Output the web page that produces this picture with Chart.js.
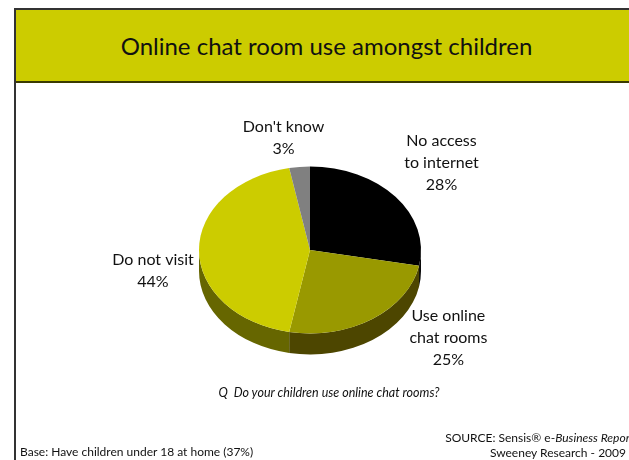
<!DOCTYPE html>
<html>
<head>
<meta charset="utf-8">
<script src="https://cdn.jsdelivr.net/npm/chart.js@4.4.1/dist/chart.umd.min.js"></script>
<style>
  body { margin: 0; background: #fff; }
  #page { position: relative; width: 629px; height: 460px; overflow: hidden; font-family: Lato, "Liberation Sans", sans-serif; color: #111; }
  .banner { position: absolute; left: 14px; top: 8px; width: 620px; height: 71px; background: #cccc00;
            border-top: 2px solid #333; border-bottom: 2px solid #3a3a00; }
  .banner span { position: absolute; left: 0; width: 625px; top: 0; line-height: 72px; text-align: center; font-size: 24px; color: #111; }
  .rule { position: absolute; left: 14px; top: 8px; width: 2px; height: 452px; background: #333; }
  canvas { position: absolute; left: 0; top: 0; }
  .question { position: absolute; left: 0; width: 658px; top: 385px; text-align: center; font-size: 12.5px; font-style: italic; }
  .base { position: absolute; left: 20px; top: 444px; font-size: 12px; }
  .source, .credit { position: absolute; font-size: 12px; white-space: nowrap; }
  .source { right: -5px; top: 430px; }
  .credit { right: 3px; top: 445px; }
</style>
</head>
<body>
<div id="page">
  <div class="banner"><span>Online chat room use amongst children</span></div>
  <div class="rule"></div>
  <canvas id="pie" width="629" height="460"></canvas>
  <div class="question">Q&nbsp; Do your children use online chat rooms?</div>
  <div class="base">Base: Have children under 18 at home (37%)</div>
  <div class="source">SOURCE: Sensis® e-<i>Business Report</i></div>
  <div class="credit">Sweeney Research - 2009</div>
</div>
<script>
const categories = [['No access', 'to internet'], ['Use online', 'chat rooms'], ['Do not visit'], ["Don't know"]];
const shares = [28, 25, 44, 3];
const topColours = ['#000000', '#999900', '#cccc00', '#808080'];
const sideColours = ['#0a0a0a', '#4d4600', '#666600', '#404040'];

const TILT = 0.752;   // vertical squash of the pie top
const DEPTH = 21;     // thickness of the pie wall

// squashes the pie into an ellipse and draws the front wall under it
const pie3d = {
  id: 'pie3d',
  beforeDatasetsDraw(chart) {
    const ctx = chart.ctx;
    const arcs = chart.getDatasetMeta(0).data;
    const { x, y, outerRadius: r } = arcs[0];
    const ry = r * TILT;
    arcs.forEach((arc, i) => {
      const a0 = Math.max(arc.startAngle, 0), a1 = Math.min(arc.endAngle, Math.PI);
      if (a1 <= a0) return;
      ctx.beginPath();
      ctx.ellipse(x, y, r, ry, 0, a0, a1);
      ctx.ellipse(x, y + DEPTH, r, ry, 0, a1, a0, true);
      ctx.closePath();
      ctx.fillStyle = sideColours[i];
      ctx.fill();
    });
    ctx.save();
    ctx.translate(x, y);
    ctx.scale(1, TILT);
    ctx.translate(-x, -y);
  },
  afterDatasetsDraw(chart) {
    chart.ctx.restore();
  }
};

// category name + percentage beside each slice
const sliceLabels = {
  id: 'sliceLabels',
  afterDraw(chart, args, opts) {
    const ctx = chart.ctx;
    const arcs = chart.getDatasetMeta(0).data;
    ctx.save();
    ctx.font = opts.font;
    ctx.fillStyle = opts.color;
    ctx.textAlign = 'center';
    ctx.textBaseline = 'middle';
    arcs.forEach((arc, i) => {
      const mid = (arc.startAngle + arc.endAngle) / 2;
      const ex = arc.x + Math.cos(mid) * arc.outerRadius;
      const ey = arc.y + Math.sin(mid) * arc.outerRadius * TILT;
      const [dx, dy] = opts.nudge[i];
      const lines = [...categories[i], shares[i] + '%'];
      const top = ey + dy - (lines.length - 1) * opts.lineHeight / 2;
      lines.forEach((t, j) => ctx.fillText(t, ex + dx, top + j * opts.lineHeight));
    });
    ctx.restore();
  }
};

new Chart(document.getElementById('pie'), {
  type: 'pie',
  data: {
    labels: categories.map(c => c.join(' ')),
    datasets: [{ data: shares, backgroundColor: topColours, borderWidth: 0 }]
  },
  options: {
    responsive: false,
    animation: false,
    layout: { padding: { left: 199, top: 139, right: 208, bottom: 99 } },
    plugins: {
      legend: { display: false },
      tooltip: { enabled: false },
      sliceLabels: {
        font: '16px Lato, "Liberation Sans", sans-serif',
        color: '#111',
        lineHeight: 22,
        nudge: [[46, -34], [76, 19], [-46, 21], [-16, -29]]
      }
    }
  },
  plugins: [pie3d, sliceLabels]
});
</script>
</body>
</html>
